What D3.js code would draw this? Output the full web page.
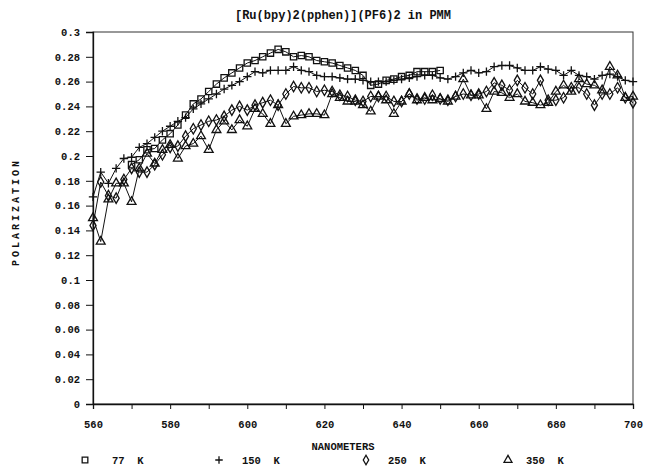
<!DOCTYPE html>
<html>
<head>
<meta charset="utf-8">
<script src="https://cdn.jsdelivr.net/npm/d3@7"></script>
<style>
  body { margin: 0; background: #fff; }
  svg { display: block; }
  text { font-family: "Liberation Mono", "DejaVu Sans Mono", monospace; font-weight: bold; fill: #111; }
</style>
</head>
<body>
<svg width="645" height="470"></svg>
<script>
// wavelengths (nm)
const nmAll = [560,562,564,566,568,570,572,574,576,578,580,582,584,586,588,590,592,594,596,598,
  600,602,604,606,608,610,612,614,616,618,620,622,624,626,628,630,632,634,636,638,
  640,642,644,646,648,650,652,654,656,658,660,662,664,666,668,670,672,674,676,678,
  680,682,684,686,688,690,692,694,696,698,700];
const nm77 = [570,572,574,576,578,580,582,584,586,588,590,592,594,596,598,600,602,604,606,608,
  610,612,614,616,618,620,622,624,626,628,630,632,634,636,638,640,642,644,646,648,650];

const pol77 = [.193,.197,.205,.206,.213,.218,.225,.233,.242,.246,
  .252,.258,.263,.267,.271,.275,.277,.280,.283,.286,
  .284,.280,.281,.280,.277,.276,.275,.273,.271,.269,
  .265,.257,.258,.261,.262,.264,.265,.268,.268,.268,.269];
const pol150 = [.167,.187,.178,.190,.198,.199,.207,.210,.215,.220,
  .224,.228,.231,.238,.242,.246,.250,.254,.257,.260,
  .264,.268,.267,.269,.269,.269,.272,.269,.268,.265,
  .264,.264,.263,.262,.262,.261,.260,.260,.260,.261,
  .262,.263,.264,.265,.265,.263,.262,.264,.267,.269,
  .267,.268,.272,.273,.273,.271,.269,.269,.272,.270,
  .269,.265,.269,.265,.264,.262,.265,.266,.264,.261,.260];
const pol250 = [.144,.179,.168,.166,.181,.190,.187,.187,.193,.201,
  .207,.208,.216,.222,.225,.228,.229,.232,.237,.240,
  .237,.241,.243,.245,.241,.250,.256,.255,.255,.252,
  .253,.252,.249,.248,.245,.244,.248,.248,.248,.244,
  .244,.250,.246,.246,.249,.246,.245,.248,.250,.249,
  .250,.252,.259,.257,.253,.261,.255,.250,.261,.245,
  .245,.247,.255,.255,.250,.241,.250,.250,.255,.247,.243];
const pol350 = [.150,.131,.165,.178,.178,.163,.190,.202,.194,.205,
  .209,.198,.208,.210,.216,.205,.221,.228,.221,.229,
  .224,.238,.234,.226,.241,.226,.232,.233,.234,.234,
  .233,.250,.247,.244,.244,.241,.236,.248,.245,.234,
  .244,.250,.245,.247,.245,.246,.244,.248,.262,.249,
  .249,.238,.252,.251,.247,.250,.244,.243,.241,.243,
  .252,.257,.252,.262,.258,.257,.253,.272,.265,.247,.248];

const xTicks = [560,570,580,590,600,610,620,630,640,650,660,670,680,690,700];
const xLabels = [560,580,600,620,640,660,680,700];
const yTicks = [0,0.02,0.04,0.06,0.08,0.1,0.12,0.14,0.16,0.18,0.2,0.22,0.24,0.26,0.28,0.3];
const legendLabels = ["77  K", "150  K", "250  K", "350  K"];

const title = "[Ru(bpy)2(pphen)](PF6)2 in PMM";
const xTitle = "NANOMETERS";
const yTitle = "POLARIZATION";

const plus = {
  draw(ctx, size) {
    const r = Math.sqrt(size) / 2;
    ctx.moveTo(-r, 0); ctx.lineTo(r, 0);
    ctx.moveTo(0, -r); ctx.lineTo(0, r);
  }
};

const series = [
  { nm: nm77, pol: pol77, shape: d3.symbolSquare, size: 40 },
  { nm: nmAll, pol: pol150, shape: plus, size: 70 },
  { nm: nmAll, pol: pol250, shape: d3.symbolDiamond, size: 32 },
  { nm: nmAll, pol: pol350, shape: d3.symbolTriangle, size: 34 }
];

const svg = d3.select("svg");
const plotLeft = 93, plotRight = 633, plotTop = 32, plotBottom = 404;

const x = d3.scaleLinear().domain([560, 700]).range([plotLeft, plotRight]);
const y = d3.scaleLinear().domain([0, 0.3]).range([plotBottom, plotTop]);

// frame
svg.append("rect")
  .attr("x", plotLeft).attr("y", plotTop)
  .attr("width", plotRight - plotLeft).attr("height", plotBottom - plotTop)
  .attr("fill", "none").attr("stroke", "#333").attr("stroke-width", 1);

// x axis
const xAxis = svg.append("g")
  .attr("transform", `translate(0,${plotBottom})`)
  .call(d3.axisBottom(x).tickValues(xTicks).tickSize(5).tickFormat(d => xLabels.includes(d) ? d : ""));
xAxis.select(".domain").attr("stroke", "#111").attr("stroke-width", 1.3);
xAxis.selectAll(".tick line").attr("stroke", "#111");
xAxis.selectAll(".tick text").attr("y", 17).attr("font-size", 10.5)
  .attr("font-family", null).attr("fill", "#111");

// y axis
const yAxis = svg.append("g")
  .attr("transform", `translate(${plotLeft},0)`)
  .call(d3.axisLeft(y).tickValues(yTicks).tickSize(7).tickPadding(6).tickFormat(d => String(+d.toFixed(2))));
yAxis.select(".domain").attr("stroke", "#111").attr("stroke-width", 1.3);
yAxis.selectAll(".tick line").attr("stroke", "#111");
yAxis.selectAll(".tick text").attr("font-size", 10.5).attr("font-family", null).attr("fill", "#111");

// series lines + markers
const line = d3.line().x(d => x(d[0])).y(d => y(d[1]));

series.forEach(s => {
  const pts = s.nm.map((n, i) => [n, s.pol[i]]);
  svg.append("path")
    .datum(pts)
    .attr("d", line)
    .attr("fill", "none")
    .attr("stroke", "#111")
    .attr("stroke-width", 1);

  svg.append("g")
    .selectAll("path")
    .data(pts)
    .join("path")
    .attr("transform", d => `translate(${x(d[0])},${y(d[1])})`)
    .attr("d", d3.symbol().type(s.shape).size(s.size))
    .attr("fill", "none")
    .attr("stroke", "#111")
    .attr("stroke-width", 1.3);
});

// titles
svg.append("text")
  .attr("x", 343).attr("y", 19)
  .attr("text-anchor", "middle")
  .attr("font-size", 12)
  .text(title);

svg.append("text")
  .attr("x", 343).attr("y", 450)
  .attr("text-anchor", "middle")
  .attr("font-size", 10.5)
  .text(xTitle);

svg.append("text")
  .attr("transform", "translate(19,212) rotate(-90)")
  .attr("text-anchor", "middle")
  .attr("font-size", 10)
  .attr("letter-spacing", 3)
  .text(yTitle);

// legend
const legendX = [85, 219, 366, 508];
const legendTextX = [112, 242, 388, 526];
const legend = svg.append("g");
series.forEach((s, i) => {
  legend.append("path")
    .attr("transform", `translate(${legendX[i]},460)`)
    .attr("d", d3.symbol().type(s.shape).size(s.size * 0.8))
    .attr("fill", "none")
    .attr("stroke", "#111")
    .attr("stroke-width", 1.3);
  legend.append("text")
    .attr("x", legendTextX[i]).attr("y", 464)
    .attr("font-size", 10.5)
    .style("white-space", "pre")
    .text(legendLabels[i]);
});
</script>
</body>
</html>
